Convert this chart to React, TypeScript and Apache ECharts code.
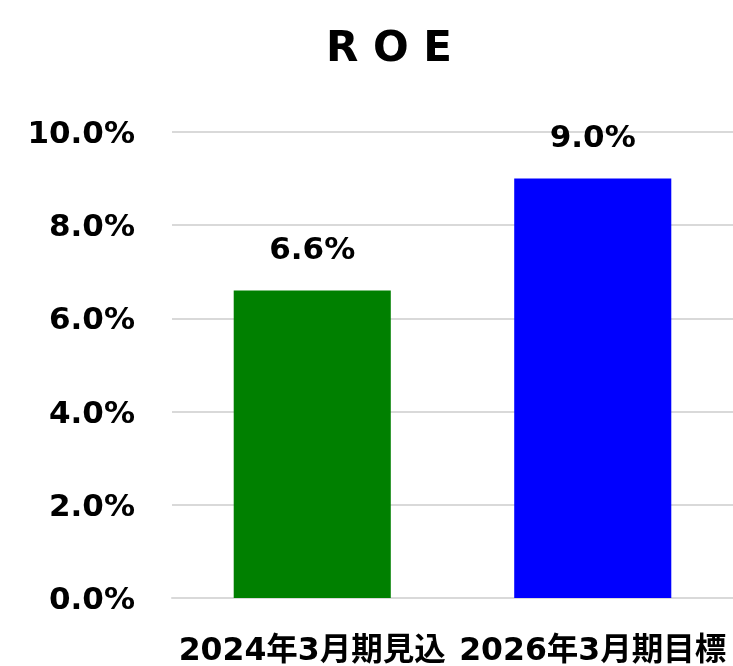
import React, { useEffect, useRef } from "react";
import * as echarts from "echarts";

const categories = ["2024年3月期見込", "2026年3月期目標"];
const values = [6.6, 9.0];
const barColors = ["#008000", "#0000FF"];
const titleText = "R O E";

export default function App() {
  const ref = useRef<HTMLDivElement>(null);
  useEffect(() => {
    if (!ref.current) return;
    const chart = echarts.init(ref.current, null, { renderer: "svg" });
    const font = "'DejaVu Sans', 'Noto Sans CJK JP', sans-serif";
    chart.setOption({
      animation: false,
      title: {
        text: titleText,
        left: 321,
        top: 20,
        textStyle: { fontFamily: font, fontWeight: "bold", fontSize: 42, color: "#000" },
      },
      grid: { left: 172, right: 0, top: 132, bottom: 68, containLabel: false },
      xAxis: {
        type: "category",
        data: categories,
        axisLine: { show: true, lineStyle: { color: "#d9d9d9", width: 2 } },
        axisTick: { show: false },
        axisLabel: {
          interval: 0,
          margin: 37,
          fontFamily: font,
          fontWeight: "bold",
          fontSize: 31.5,
          lineHeight: 28,
          color: "#000",
        },
      },
      yAxis: {
        type: "value",
        min: 0,
        max: 10,
        interval: 2,
        axisLine: { show: false },
        axisTick: { show: false },
        splitLine: { lineStyle: { color: "#d9d9d9", width: 2 } },
        axisLabel: {
          margin: 37,
          fontFamily: font,
          fontWeight: "bold",
          fontSize: 31,
          color: "#000",
          formatter: (v: number) => v.toFixed(1) + "%",
        },
      },
      series: [
        {
          type: "bar",
          barWidth: "56%",
          data: values.map((v, i) => ({ value: v, itemStyle: { color: barColors[i] } })),
          label: {
            show: true,
            position: "top",
            distance: 27,
            fontFamily: font,
            fontWeight: "bold",
            fontSize: 31,
            color: "#000",
            formatter: (p: any) => p.value.toFixed(1) + "%",
          },
        },
      ],
    });
    return () => chart.dispose();
  }, []);
  return (
    <div
      ref={ref}
      style={{ position: "fixed", left: 0, top: 0, width: 733, height: 666 }}
    />
  );
}
